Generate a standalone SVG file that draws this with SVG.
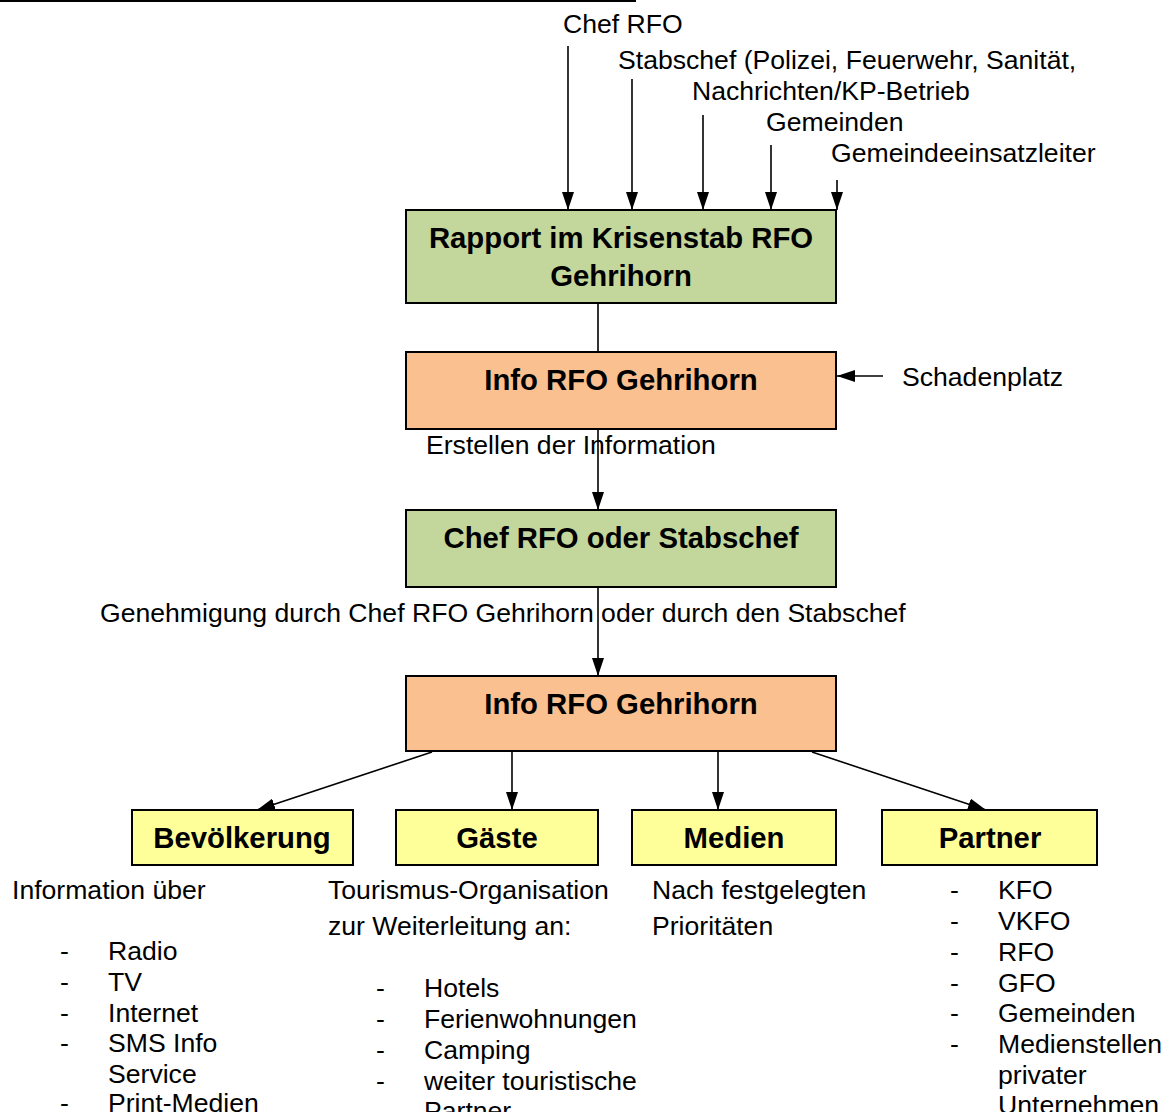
<svg xmlns="http://www.w3.org/2000/svg" width="1169" height="1112" viewBox="0 0 1169 1112">
<style>
.t{font-family:"Liberation Sans",Arial,sans-serif;font-size:26.6px;fill:#000}
.b{font-family:"Liberation Sans",Arial,sans-serif;font-size:29.3px;font-weight:bold;fill:#000;text-anchor:middle}
.box{stroke:#000;stroke-width:2}
.g{fill:#c3d69b}.o{fill:#fac090}.y{fill:#ffff99}
.c{stroke:#000;stroke-width:1.6;fill:none}
</style>
<defs>
<marker id="a" markerUnits="userSpaceOnUse" markerWidth="18" markerHeight="12" viewBox="0 0 18 12" refX="18" refY="6" orient="auto">
<path d="M0,0 L18,6 L0,12 Z" fill="#000"/>
</marker>
</defs>
<line x1="0" y1="1" x2="636" y2="1" stroke="#000" stroke-width="2"/>
<g id="connectors">
<line class="c" x1="568" y1="46" x2="568" y2="210" marker-end="url(#a)"/>
<line class="c" x1="632" y1="79" x2="632" y2="210" marker-end="url(#a)"/>
<line class="c" x1="703" y1="115" x2="703" y2="210" marker-end="url(#a)"/>
<line class="c" x1="771" y1="145" x2="771" y2="210" marker-end="url(#a)"/>
<line class="c" x1="837" y1="180" x2="837" y2="210" marker-end="url(#a)"/>
<line class="c" x1="598" y1="303" x2="598" y2="352"/>
<line class="c" x1="883" y1="376" x2="837" y2="376" marker-end="url(#a)"/>
<line class="c" x1="598" y1="429" x2="598" y2="510" marker-end="url(#a)"/>
<line class="c" x1="598" y1="587" x2="598" y2="676" marker-end="url(#a)"/>
<line class="c" x1="432" y1="752" x2="257" y2="810" marker-end="url(#a)"/>
<line class="c" x1="512" y1="752" x2="512" y2="810" marker-end="url(#a)"/>
<line class="c" x1="718" y1="752" x2="718" y2="810" marker-end="url(#a)"/>
<line class="c" x1="812" y1="752" x2="986" y2="810" marker-end="url(#a)"/>
</g>
<g id="labels">
<text class="t" x="563" y="33">Chef RFO</text>
<text class="t" x="618" y="69">Stabschef (Polizei, Feuerwehr, Sanität,</text>
<text class="t" x="692" y="100">Nachrichten/KP-Betrieb</text>
<text class="t" x="766" y="131">Gemeinden</text>
<text class="t" x="831" y="162">Gemeindeeinsatzleiter</text>
<text class="t" x="902" y="386">Schadenplatz</text>
<text class="t" x="426" y="454">Erstellen der Information</text>
<text class="t" x="100" y="622">Genehmigung durch Chef RFO Gehrihorn oder durch den Stabschef</text>
</g>
<g id="n-rapport">
<rect class="box g" x="406" y="210" width="430" height="93"/>
<text class="b" x="621" y="248">Rapport im Krisenstab RFO</text>
<text class="b" x="621" y="286">Gehrihorn</text>
</g>
<g id="n-info1">
<rect class="box o" x="406" y="352" width="430" height="77"/>
<text class="b" x="621" y="390">Info RFO Gehrihorn</text>
</g>
<g id="n-chef">
<rect class="box g" x="406" y="510" width="430" height="77"/>
<text class="b" x="621" y="548">Chef RFO oder Stabschef</text>
</g>
<g id="n-info2">
<rect class="box o" x="406" y="676" width="430" height="75"/>
<text class="b" x="621" y="714">Info RFO Gehrihorn</text>
</g>
<g id="n-bev">
<rect class="box y" x="132" y="810" width="221" height="55"/>
<text class="b" x="242" y="848">Bevölkerung</text>
</g>
<g id="n-gaeste">
<rect class="box y" x="396" y="810" width="202" height="55"/>
<text class="b" x="497" y="848">Gäste</text>
</g>
<g id="n-medien">
<rect class="box y" x="632" y="810" width="204" height="55"/>
<text class="b" x="734" y="848">Medien</text>
</g>
<g id="n-partner">
<rect class="box y" x="882" y="810" width="215" height="55"/>
<text class="b" x="990" y="848">Partner</text>
</g>
<g id="list-bev">
<text class="t" x="12" y="899">Information über</text>
<text class="t" x="60" y="960">-</text><text class="t" x="108" y="960">Radio</text>
<text class="t" x="60" y="991">-</text><text class="t" x="108" y="991">TV</text>
<text class="t" x="60" y="1022">-</text><text class="t" x="108" y="1022">Internet</text>
<text class="t" x="60" y="1052">-</text><text class="t" x="108" y="1052">SMS Info</text>
<text class="t" x="108" y="1083">Service</text>
<text class="t" x="60" y="1112">-</text><text class="t" x="108" y="1112">Print-Medien</text>
</g>
<g id="list-gaeste">
<text class="t" x="328" y="899">Tourismus-Organisation</text>
<text class="t" x="328" y="935">zur Weiterleitung an:</text>
<text class="t" x="376" y="997">-</text><text class="t" x="424" y="997">Hotels</text>
<text class="t" x="376" y="1028">-</text><text class="t" x="424" y="1028">Ferienwohnungen</text>
<text class="t" x="376" y="1059">-</text><text class="t" x="424" y="1059">Camping</text>
<text class="t" x="376" y="1090">-</text><text class="t" x="424" y="1090">weiter touristische</text>
<text class="t" x="424" y="1120">Partner</text>
</g>
<g id="list-medien">
<text class="t" x="652" y="899">Nach festgelegten</text>
<text class="t" x="652" y="935">Prioritäten</text>
</g>
<g id="list-partner">
<text class="t" x="950" y="899">-</text><text class="t" x="998" y="899">KFO</text>
<text class="t" x="950" y="930">-</text><text class="t" x="998" y="930">VKFO</text>
<text class="t" x="950" y="961">-</text><text class="t" x="998" y="961">RFO</text>
<text class="t" x="950" y="992">-</text><text class="t" x="998" y="992">GFO</text>
<text class="t" x="950" y="1022">-</text><text class="t" x="998" y="1022">Gemeinden</text>
<text class="t" x="950" y="1053">-</text><text class="t" x="998" y="1053">Medienstellen</text>
<text class="t" x="998" y="1084">privater</text>
<text class="t" x="998" y="1114">Unternehmen</text>
</g>
</svg>
